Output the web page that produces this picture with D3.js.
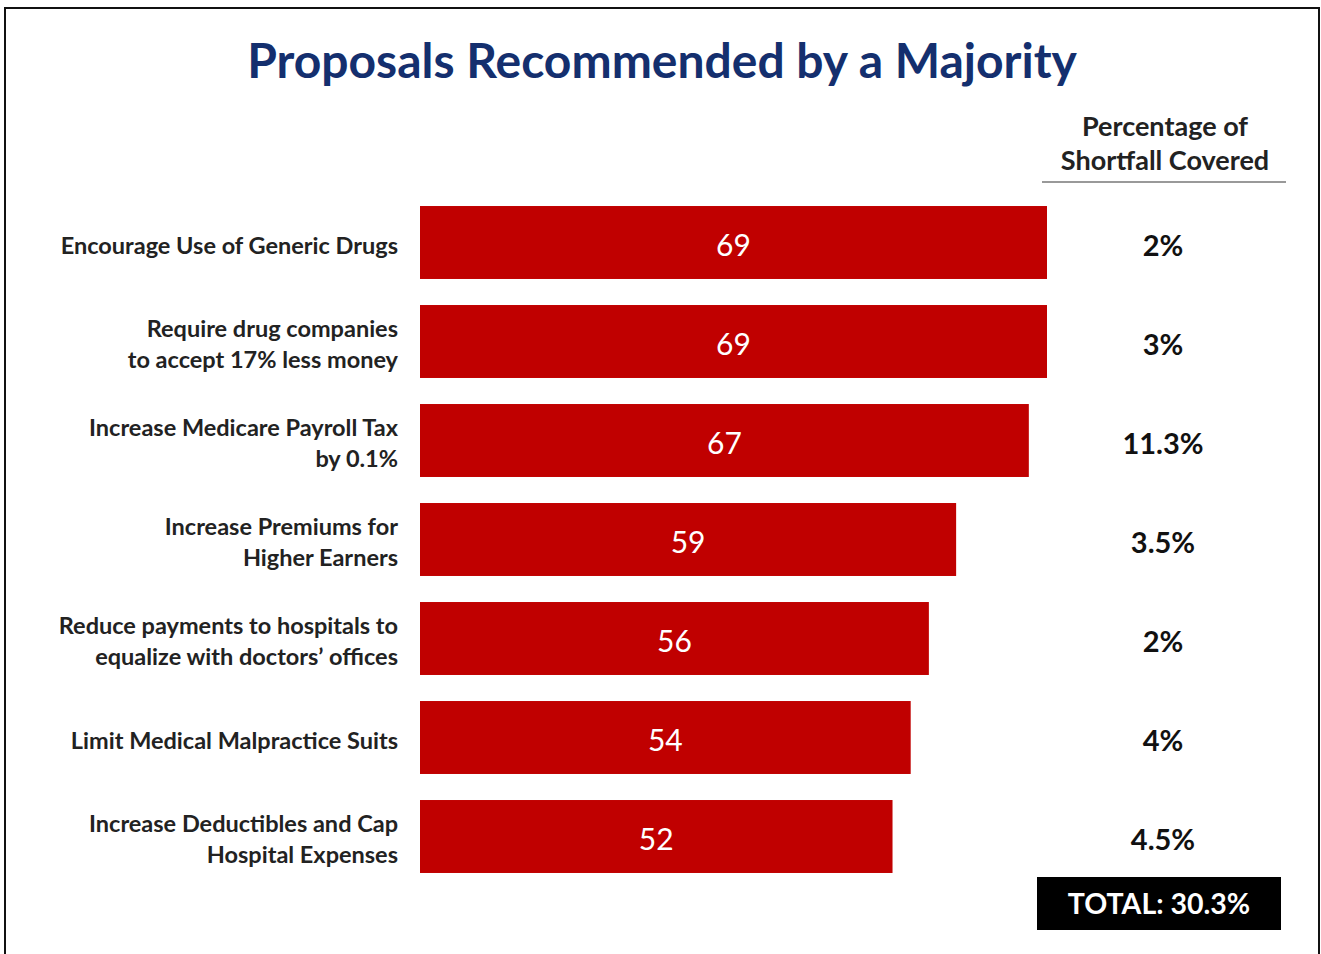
<!DOCTYPE html>
<html>
<head>
<meta charset="utf-8">
<script src="https://cdn.jsdelivr.net/npm/d3@7/dist/d3.min.js"></script>
<style>
  html, body { margin: 0; padding: 0; background: #fff; }
  svg { display: block; }
  text { font-family: Lato, "Open Sans", "Noto Sans", sans-serif; }
</style>
</head>
<body>
<svg id="chart" width="1321" height="954"></svg>
<script>
// Proposals and the share of respondents recommending each
const proposals = [
  ["Encourage  Use of Generic Drugs"],
  ["Require drug companies", "to accept 17% less money"],
  ["Increase Medicare Payroll Tax", "by 0.1%"],
  ["Increase Premiums for", "Higher Earners"],
  ["Reduce payments to hospitals to", "equalize with doctors\u2019 offices"],
  ["Limit Medical Malpractice Suits"],
  ["Increase Deductibles and Cap", "Hospital Expenses"]
];
const support = [69, 69, 67, 59, 56, 54, 52];
const shortfallCovered = ["2%", "3%", "11.3%", "3.5%", "2%", "4%", "4.5%"];
const totalLabel = "TOTAL: 30.3%";

const svg = d3.select("#chart");

// outer frame
svg.append("rect")
  .attr("x", 5).attr("y", 8)
  .attr("width", 1314).attr("height", 960)
  .attr("fill", "none").attr("stroke", "#111").attr("stroke-width", 2);

// title
svg.append("text")
  .attr("x", 662).attr("y", 78)
  .attr("text-anchor", "middle")
  .attr("font-size", 48).attr("font-weight", 700)
  .attr("fill", "#142F6E")
  .text("Proposals Recommended by a Majority");

const idx = d3.range(support.length);

const x = d3.scaleLinear().domain([0, 69]).range([420, 1047]);
const y = d3.scaleBand().domain(idx).range([193, 886])
  .paddingInner(0.263).paddingOuter(0.1315);

// bars
svg.append("g").selectAll("rect")
  .data(idx).join("rect")
  .attr("x", x(0))
  .attr("y", i => y(i))
  .attr("width", i => x(support[i]) - x(0))
  .attr("height", y.bandwidth())
  .attr("fill", "#C00000");

// value labels inside bars
svg.append("g").selectAll("text")
  .data(idx).join("text")
  .attr("x", i => (x(0) + x(support[i])) / 2)
  .attr("y", i => y(i) + y.bandwidth() / 2 + 3)
  .attr("dy", "0.35em")
  .attr("text-anchor", "middle")
  .attr("font-size", 30)
  .attr("fill", "#fff")
  .text(i => support[i]);

// category labels
const lineH = 31;
const cat = svg.append("g").selectAll("text")
  .data(idx).join("text")
  .attr("text-anchor", "end")
  .attr("font-size", 23.5).attr("font-weight", 700)
  .attr("fill", "#222");
cat.each(function(i) {
  const lines = proposals[i];
  const cy = y(i) + y.bandwidth() / 2 + (lines.length > 1 ? 3 : 3);
  d3.select(this).selectAll("tspan")
    .data(lines).join("tspan")
    .attr("x", 398)
    .attr("y", (d, k) => cy + (k - (lines.length - 1) / 2) * lineH)
    .attr("dy", "0.35em")
    .text(d => d);
});

// right-hand column header
const colX = 1165;
svg.append("text")
  .attr("text-anchor", "middle")
  .attr("font-size", 27).attr("font-weight", 700).attr("fill", "#222")
  .selectAll("tspan")
  .data(["Percentage of", "Shortfall Covered"]).join("tspan")
  .attr("x", colX)
  .attr("y", (d, k) => 136 + k * 34)
  .text(d => d);

svg.append("line")
  .attr("x1", 1042).attr("x2", 1286)
  .attr("y1", 182).attr("y2", 182)
  .attr("stroke", "#777").attr("stroke-width", 1.5);

// percentage of shortfall covered per proposal
svg.append("g").selectAll("text")
  .data(idx).join("text")
  .attr("x", 1163)
  .attr("y", i => y(i) + y.bandwidth() / 2 + 3)
  .attr("dy", "0.35em")
  .attr("text-anchor", "middle")
  .attr("font-size", 29).attr("font-weight", 700)
  .attr("fill", "#111")
  .text(i => shortfallCovered[i]);

// total box
svg.append("rect")
  .attr("x", 1037).attr("y", 877)
  .attr("width", 244).attr("height", 53)
  .attr("fill", "#000");
svg.append("text")
  .attr("x", 1159).attr("y", 904)
  .attr("dy", "0.35em")
  .attr("text-anchor", "middle")
  .attr("font-size", 28.5).attr("font-weight", 700)
  .attr("fill", "#fff")
  .text(totalLabel);
</script>
</body>
</html>
